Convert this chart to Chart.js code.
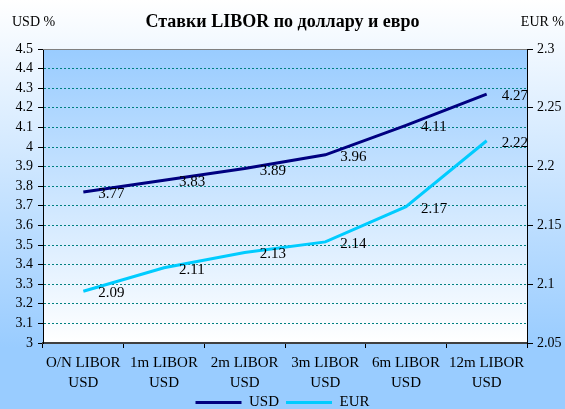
<!DOCTYPE html>
<html>
<head>
<meta charset="utf-8">
<script src="https://cdn.jsdelivr.net/npm/chart.js@4"></script>
<style>
  html, body { margin: 0; padding: 0; background: #fff; }
  #wrap { width: 565px; height: 409px; }
</style>
</head>
<body>
<div id="wrap"><canvas id="myChart" width="565" height="409"></canvas></div>
<script>
// categories and series
var categories = [
  ['O/N LIBOR', 'USD'], ['1m LIBOR', 'USD'], ['2m LIBOR', 'USD'],
  ['3m LIBOR', 'USD'], ['6m LIBOR', 'USD'], ['12m LIBOR', 'USD']
];
var usdRates = [3.77, 3.83, 3.89, 3.96, 4.11, 4.27];
var eurRates = [2.094, 2.114, 2.127, 2.136, 2.166, 2.222];
var usdTicks = { min: 3, max: 4.5, step: 0.1 };
var eurTicks = { min: 2.05, max: 2.3, step: 0.05 };

var serif = "'Liberation Serif', 'Times New Roman', serif";
Chart.defaults.font.family = serif;
Chart.defaults.color = '#000';

function trimNum(v) {
  return String(+v.toFixed(2));
}

// background of the whole picture and of the plot area, side captions
var backgrounds = {
  id: 'backgrounds',
  beforeDraw: function (chart) {
    var ctx = chart.ctx, a = chart.chartArea;
    ctx.save();
    var g = ctx.createLinearGradient(0, 0, 0, chart.height);
    g.addColorStop(0, '#ffffff');
    g.addColorStop(0.85, '#99ccff');
    g.addColorStop(1, '#99ccff');
    ctx.fillStyle = g;
    ctx.fillRect(0, 0, chart.width, chart.height);
    var p = ctx.createLinearGradient(0, a.top, 0, a.bottom);
    p.addColorStop(0, '#99ccff');
    p.addColorStop(1, '#ffffff');
    ctx.fillStyle = p;
    ctx.fillRect(a.left, a.top, a.right - a.left, a.bottom - a.top);
    ctx.restore();
  },
  afterDraw: function (chart) {
    var ctx = chart.ctx, a = chart.chartArea;
    ctx.save();
    ctx.strokeStyle = '#808080';
    ctx.lineWidth = 1;
    ctx.beginPath();
    ctx.moveTo(a.left, a.top + 0.5);
    ctx.lineTo(a.right, a.top + 0.5);
    ctx.stroke();
    ctx.fillStyle = '#000';
    ctx.font = '14px ' + serif;
    ctx.textBaseline = 'alphabetic';
    ctx.textAlign = 'left';
    ctx.fillText('USD %', 12, 26);
    ctx.textAlign = 'right';
    ctx.fillText('EUR %', chart.width - 1, 26);
    ctx.restore();
  }
};

// value labels to the right of each point
var valueLabels = {
  id: 'valueLabels',
  afterDatasetsDraw: function (chart) {
    var ctx = chart.ctx;
    ctx.save();
    ctx.fillStyle = '#000';
    ctx.font = '15px ' + serif;
    ctx.textAlign = 'left';
    ctx.textBaseline = 'alphabetic';
    chart.data.datasets.forEach(function (ds, di) {
      chart.getDatasetMeta(di).data.forEach(function (pt, i) {
        ctx.fillText(ds.data[i].toFixed(2), pt.x + 15, pt.y + 6);
      });
    });
    ctx.restore();
  }
};

var ctx = document.getElementById('myChart').getContext('2d');
var myChart = new Chart(ctx, {
  type: 'line',
  data: {
    labels: categories,
    datasets: [{
      label: 'USD',
      data: usdRates,
      borderColor: '#000080',
      backgroundColor: '#000080',
      borderWidth: 3,
      pointRadius: 0,
      yAxisID: 'y'
    }, {
      label: 'EUR',
      data: eurRates,
      borderColor: '#00ccff',
      backgroundColor: '#00ccff',
      borderWidth: 3,
      pointRadius: 0,
      yAxisID: 'y2'
    }]
  },
  options: {
    responsive: false,
    animation: false,
    layout: { padding: { top: 0, left: 0, right: 0, bottom: -11 } },
    plugins: {
      title: {
        display: true,
        text: 'Ставки LIBOR по доллару и евро',
        color: '#000',
        font: { family: serif, size: 18, weight: 'bold' },
        padding: { top: 12, bottom: 15.4 }
      },
      legend: {
        position: 'bottom',
        labels: {
          color: '#000',
          font: { family: serif, size: 15 },
          usePointStyle: true,
          pointStyle: 'line',
          pointStyleWidth: 46,
          boxHeight: 15,
          padding: 7
        }
      },
      tooltip: { enabled: false }
    },
    scales: {
      x: {
        type: 'category',
        offset: true,
        afterFit: function (s) { s.height = 45; },
        grid: { drawOnChartArea: false, offset: true, tickLength: 5, tickColor: '#000' },
        border: { color: '#404040', width: 2 },
        ticks: {
          color: '#000',
          font: { family: serif, size: 15, lineHeight: 1.33 },
          maxRotation: 0,
          autoSkip: false,
          padding: 5
        }
      },
      y: {
        position: 'left',
        min: usdTicks.min,
        max: usdTicks.max,
        afterFit: function (s) { s.width = 43; },
        grid: { color: '#008080', tickColor: '#000', tickLength: 5 },
        border: { color: '#000', dash: [2, 2] },
        ticks: {
          stepSize: usdTicks.step,
          autoSkip: false,
          color: '#000',
          font: { family: serif, size: 14 },
          padding: 5,
          callback: function (v) { return trimNum(v); }
        }
      },
      y2: {
        position: 'right',
        min: eurTicks.min,
        max: eurTicks.max,
        afterFit: function (s) { s.width = 38; },
        grid: { drawOnChartArea: false, tickColor: '#000', tickLength: 6 },
        border: { color: '#000' },
        ticks: {
          stepSize: eurTicks.step,
          autoSkip: false,
          color: '#000',
          font: { family: serif, size: 14 },
          padding: 4,
          callback: function (v) { return trimNum(v); }
        }
      }
    }
  },
  plugins: [backgrounds, valueLabels]
});
</script>
</body>
</html>
